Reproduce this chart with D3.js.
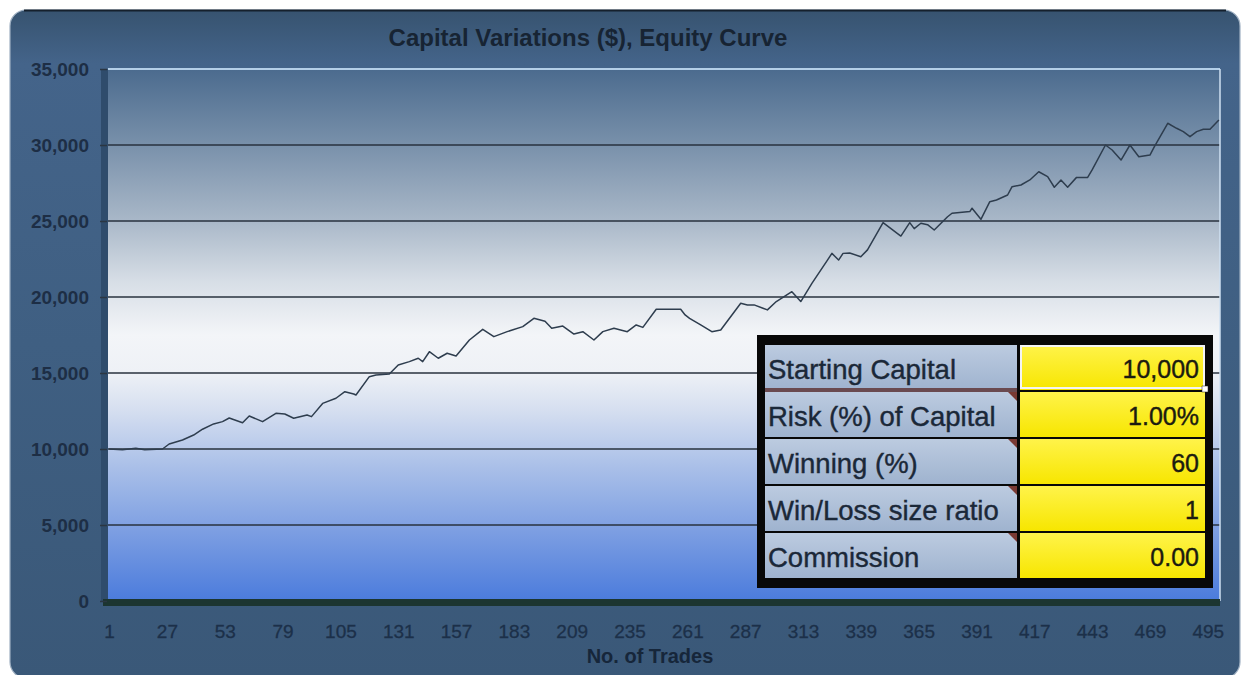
<!DOCTYPE html>
<html>
<head>
<meta charset="utf-8">
<script src="https://cdn.jsdelivr.net/npm/d3@7/dist/d3.min.js"></script>
<style>
  html, body { margin: 0; padding: 0; background: #ffffff; }
  svg { display: block; }
</style>
</head>
<body>
<svg id="chart" width="1246" height="675"></svg>
<script>
// ---------------- DATA ----------------
const chartTitle = "Capital Variations ($), Equity Curve";
const xAxisTitle = "No. of Trades";

const trades = [1, 7, 13, 17, 25, 28, 34, 39, 43, 48, 52, 55, 61, 64, 70, 76, 80, 84, 90, 92,
  97, 103, 107, 111, 112, 118, 121, 127, 131, 136, 140, 142, 145, 149, 153, 157, 163, 169, 174, 180,
  187, 192, 197, 200, 205, 210, 214, 219, 223, 228, 234, 238, 241, 247, 258, 260, 262, 267, 272, 276,
  285, 288, 291, 297, 301, 308, 312, 317, 324, 326, 329, 331, 334, 339, 342, 349, 357, 361, 363, 366,
  369, 372, 378, 380, 388, 389, 393, 397, 400, 405, 407, 411, 415, 419, 423, 426, 429, 432, 436, 441,
  443, 449, 452, 456, 460, 464, 469, 471, 477, 481, 484, 487, 490, 493, 496, 500];

const equity = [10000, 9950, 10050, 9950, 10000, 10330, 10590, 10920, 11300, 11650, 11800, 12040, 11730, 12170, 11800, 12350, 12300, 12020, 12240, 12130,
  13000, 13340, 13770, 13620, 13550, 14760, 14870, 14930, 15530, 15750, 15970, 15750, 16400, 15970, 16300, 16120, 17170, 17875, 17390, 17720,
  18050, 18600, 18400, 17940, 18090, 17560, 17720, 17170, 17720, 17940, 17720, 18160, 18000, 19190, 19190, 18820, 18600, 18160, 17720, 17830,
  19590, 19480, 19480, 19150, 19700, 20350, 19700, 20900, 22430, 22870, 22430, 22870, 22900, 22650, 23100, 24890, 24010, 24890, 24500, 24850,
  24760, 24410, 25280, 25510, 25620, 25840, 25110, 26270, 26380, 26710, 27260, 27370, 27700, 28240, 27920, 27220, 27700, 27220, 27870, 27870,
  28360, 30000, 29670, 29010, 30000, 29230, 29340, 29890, 31430, 31100, 30880, 30550, 30880, 31040, 31040, 31650];

const xTickLabels = [1, 27, 53, 79, 105, 131, 157, 183, 209, 235, 261, 287, 313, 339, 365, 391, 417, 443, 469, 495];
const yTickValues = [0, 5000, 10000, 15000, 20000, 25000, 30000, 35000];

const tableLabels = ["Starting Capital", "Risk (%) of Capital", "Winning (%)", "Win/Loss size ratio", "Commission"];
const tableValues = ["10,000", "1.00%", "60", "1", "0.00"];

// ---------------- LAYOUT ----------------
const svg = d3.select("#chart");
const plot = { left: 108, right: 1220, top: 69, bottom: 601 };
const FONT = "'Liberation Sans', Arial, sans-serif";

const x = d3.scaleLinear().domain([0.5, 500.5]).range([plot.left, plot.right]);
const y = d3.scaleLinear().domain([0, 35000]).range([plot.bottom, plot.top]);

const defs = svg.append("defs");

const fg = defs.append("linearGradient").attr("id", "frameGrad").attr("x1", 0).attr("y1", 0).attr("x2", 0).attr("y2", 1);
fg.append("stop").attr("offset", "0%").attr("stop-color", "#37536f");
fg.append("stop").attr("offset", "8%").attr("stop-color", "#44648a");
fg.append("stop").attr("offset", "50%").attr("stop-color", "#3f5f82");
fg.append("stop").attr("offset", "100%").attr("stop-color", "#3a5878");

const pg = defs.append("linearGradient").attr("id", "plotGrad").attr("x1", 0).attr("y1", 0).attr("x2", 0).attr("y2", 1);
[
  [0, "#4b6b8e"], [0.14, "#7890aa"], [0.28, "#a7b6c7"], [0.40, "#d7dee6"], [0.50, "#f3f5f8"],
  [0.57, "#eef1f6"], [0.64, "#d6dff0"], [0.75, "#a9bfe8"], [0.87, "#7c9ee2"], [1, "#4b7bdc"]
].forEach(([o, c]) => pg.append("stop").attr("offset", (o * 100) + "%").attr("stop-color", c));

const lg = defs.append("linearGradient").attr("id", "labelGrad").attr("x1", 0).attr("y1", 0).attr("x2", 0).attr("y2", 1);
lg.append("stop").attr("offset", "0%").attr("stop-color", "#bccbe0");
lg.append("stop").attr("offset", "100%").attr("stop-color", "#9fb3cf");

const yg = defs.append("linearGradient").attr("id", "yelGrad").attr("x1", 0).attr("y1", 0).attr("x2", 0).attr("y2", 1);
yg.append("stop").attr("offset", "0%").attr("stop-color", "#fff34a");
yg.append("stop").attr("offset", "100%").attr("stop-color", "#f7e600");

// outer frame
svg.append("rect").attr("x", 10).attr("y", 10).attr("width", 1230).attr("height", 668)
  .attr("rx", 16).attr("fill", "url(#frameGrad)")
  .attr("stroke", "#9fb0c2").attr("stroke-width", 1.2);
svg.append("line").attr("x1", 24).attr("x2", 1226).attr("y1", 10.5).attr("y2", 10.5)
  .attr("stroke", "#15202c").attr("stroke-width", 2);

// left wall strip
svg.append("rect").attr("x", 101).attr("y", plot.top).attr("width", plot.left - 101).attr("height", plot.bottom - plot.top)
  .attr("fill", "#2f4c6c");

// plot area
svg.append("rect").attr("x", plot.left).attr("y", plot.top)
  .attr("width", plot.right - plot.left).attr("height", plot.bottom - plot.top)
  .attr("fill", "url(#plotGrad)");

// gridlines
svg.append("g").selectAll("line").data(yTickValues.filter(v => v > 0 && v < 35000)).join("line")
  .attr("x1", plot.left).attr("x2", plot.right)
  .attr("y1", d => y(d)).attr("y2", d => y(d))
  .attr("stroke", "#28323e").attr("stroke-width", 1.7);

// top & right light edges
svg.append("line").attr("x1", plot.left).attr("x2", plot.right).attr("y1", plot.top).attr("y2", plot.top)
  .attr("stroke", "#b4cfe8").attr("stroke-width", 2);
svg.append("line").attr("x1", plot.right).attr("x2", plot.right).attr("y1", plot.top).attr("y2", plot.bottom)
  .attr("stroke", "#cfe0f2").attr("stroke-width", 1.5);

// floor
svg.append("rect").attr("x", 103).attr("y", plot.bottom - 2).attr("width", plot.right - 103).attr("height", 7)
  .attr("fill", "#1c3531");

// y axis
const yAxis = svg.append("g").attr("transform", `translate(${plot.left - 1},0)`)
  .call(d3.axisLeft(y).tickValues(yTickValues).tickFormat(d3.format(",")).tickSize(7).tickPadding(11));
yAxis.select(".domain").remove();
yAxis.selectAll(".tick line").attr("stroke", "#2b3642").attr("stroke-width", 1.5);
yAxis.selectAll(".tick text")
  .attr("font-family", FONT).attr("font-size", 19).attr("font-weight", "bold")
  .attr("fill", "#1d2e45").attr("dy", "0.35em");

// x axis
const xAxis = svg.append("g").attr("transform", `translate(0,${plot.bottom + 8})`)
  .call(d3.axisBottom(x).tickValues(xTickLabels).tickSize(0).tickPadding(16));
xAxis.select(".domain").remove();
xAxis.selectAll(".tick text")
  .attr("font-family", FONT).attr("font-size", 19)
  .attr("fill", "#1c3049").attr("stroke", "#1c3049").attr("stroke-width", 0.3);

// axis title
svg.append("text").attr("x", 650).attr("y", 663).attr("text-anchor", "middle")
  .attr("font-family", FONT).attr("font-size", 20).attr("font-weight", "bold")
  .attr("fill", "#16263a").text(xAxisTitle);

// chart title
svg.append("text").attr("x", 588).attr("y", 46).attr("text-anchor", "middle")
  .attr("font-family", FONT).attr("font-size", 24).attr("font-weight", "bold")
  .attr("fill", "#172433").text(chartTitle);

// equity line
const line = d3.line().x((d, i) => x(trades[i])).y(d => y(d));
svg.append("path").datum(equity).attr("d", line)
  .attr("fill", "none").attr("stroke", "#2e3d4e").attr("stroke-width", 1.5).attr("stroke-linejoin", "round");

// ---------------- TABLE ----------------
const tbl = { x: 757, y: 335, w: 456, h: 253 };
const rowTop = 345, rowH = 47, labX0 = 765, labX1 = 1017, valX0 = 1020, valX1 = 1205;
svg.append("rect").attr("x", tbl.x).attr("y", tbl.y).attr("width", tbl.w).attr("height", tbl.h).attr("fill", "#080808");

const rows = svg.append("g").selectAll("g").data(tableLabels).join("g")
  .attr("transform", (d, i) => `translate(0,${rowTop + i * rowH})`);
rows.append("rect").attr("x", labX0).attr("y", 0).attr("width", labX1 - labX0).attr("height", rowH - 2)
  .attr("fill", "url(#labelGrad)");
rows.append("rect").attr("x", valX0).attr("y", 0).attr("width", valX1 - valX0).attr("height", rowH - 2)
  .attr("fill", "url(#yelGrad)");
rows.filter((d, i) => i > 0).append("path")
  .attr("d", `M${labX1 - 9},0 L${labX1},0 L${labX1},9 Z`).attr("fill", "#7a3a34");
rows.append("text").attr("x", labX0 + 3).attr("y", rowH / 2 + 10)
  .attr("font-family", FONT).attr("font-size", 27.5)
  .attr("fill", "#1b2838").attr("stroke", "#1b2838").attr("stroke-width", 0.4).text(d => d);
rows.append("text").attr("x", valX1 - 6).attr("y", rowH / 2 + 9).attr("text-anchor", "end")
  .attr("font-family", FONT).attr("font-size", 25)
  .attr("fill", "#1b1b10").attr("stroke", "#1b1b10").attr("stroke-width", 0.4).text((d, i) => tableValues[i]);

// reddish separator under first label row
svg.append("rect").attr("x", labX0).attr("y", rowTop + rowH - 4).attr("width", labX1 - labX0).attr("height", 4)
  .attr("fill", "#6a4a50");
// selected cell border
svg.append("rect").attr("x", valX0 + 1).attr("y", rowTop + 1).attr("width", valX1 - valX0 - 2).attr("height", rowH - 5)
  .attr("fill", "none").attr("stroke", "#f4f4f4").attr("stroke-width", 2);
svg.append("rect").attr("x", valX1 - 3).attr("y", rowTop + rowH - 6).attr("width", 6).attr("height", 6)
  .attr("fill", "#ffffff").attr("stroke", "#222").attr("stroke-width", 0.5);
</script>
</body>
</html>
